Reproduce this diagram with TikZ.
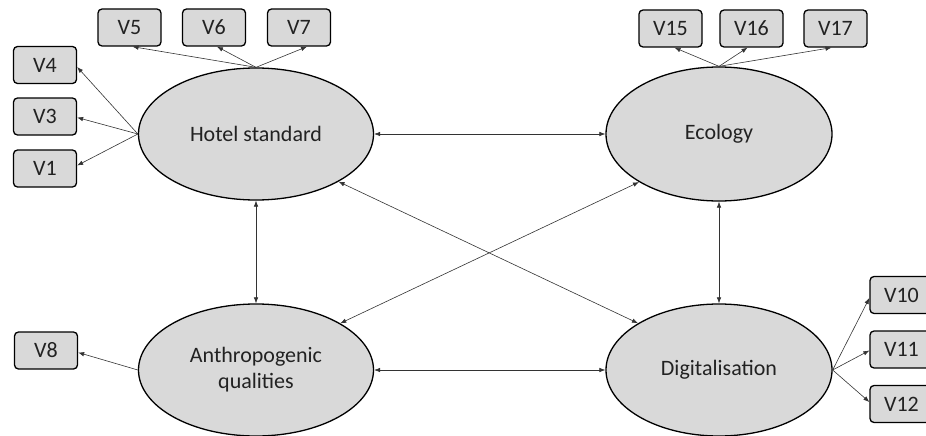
\documentclass[tikz,border=0pt]{standalone}
\usepackage{fontspec}
\setmainfont{Carlito}
\usetikzlibrary{arrows.meta,shapes.geometric}
\definecolor{fillgray}{HTML}{D9D9D9}
\definecolor{txt}{HTML}{222222}
\tikzset{
  latent/.style={ellipse, draw=black, line width=1.3pt, fill=fillgray, text=txt, inner sep=0pt, align=center,
    font=\fontsize{22}{26}\selectfont},
  obsbox/.style={rectangle, rounded corners=4pt, draw=black, line width=1.3pt, fill=fillgray, text=txt,
    minimum width=63pt, minimum height=37pt, inner sep=0pt, font=\fontsize{22}{26}\selectfont},
  load/.style={-{Latex[length=6pt,width=4.5pt]}, line width=0.6pt, draw=black!80},
  corr/.style={{Latex[length=6pt,width=4.5pt]}-{Latex[length=6pt,width=4.5pt]}, line width=0.6pt, draw=black!80},
}
\begin{document}
\begin{tikzpicture}[x=1pt,y=-1pt]
\useasboundingbox (0,0) rectangle (926,436);
% latent variables
\node[latent, minimum width=235pt, minimum height=132pt] (HS) at (256,134) {Hotel standard};
\node[latent, minimum width=226pt, minimum height=134pt] (EC) at (719,134) {Ecology};
\node[latent, minimum width=235pt, minimum height=132pt] (AQ) at (256,370) {Anthropogenic\\qualities};
\node[latent, minimum width=226pt, minimum height=132pt] (DG) at (719,370) {Digitalisation};
% indicators
\node[obsbox] (V5) at (129.5,27.5) {V5};
\node[obsbox] (V6) at (214,27.5) {V6};
\node[obsbox] (V7) at (299,27.5) {V7};
\node[obsbox] (V4) at (45,65) {V4};
\node[obsbox] (V3) at (45,116.5) {V3};
\node[obsbox] (V1) at (45,168.5) {V1};
\node[obsbox] (V15) at (670.5,28.5) {V15};
\node[obsbox] (V16) at (751.5,28.5) {V16};
\node[obsbox] (V17) at (835.5,28.5) {V17};
\node[obsbox] (V8) at (46,350.5) {V8};
\node[obsbox] (V10) at (901.5,295) {V10};
\node[obsbox] (V11) at (901.5,349.5) {V11};
\node[obsbox] (V12) at (901.5,404) {V12};
% loadings
\draw[load] (HS.north) -- ([xshift=3pt]V5.south);
\draw[load] (HS.north) -- ([xshift=3pt]V6.south);
\draw[load] (HS.north) -- ([xshift=8pt]V7.south);
\draw[load] (HS.west) -- ([yshift=-2pt]V4.east);
\draw[load] (HS.west) -- ([yshift=-1pt]V3.east);
\draw[load] (HS.west) -- ([yshift=3pt]V1.east);
\draw[load] (EC.north) -- ([xshift=4pt]V15.south);
\draw[load] (EC.north) -- ([xshift=-4pt]V16.south);
\draw[load] (EC.north) -- ([xshift=-4pt]V17.south);
\draw[load] (AQ.west) -- ([yshift=-2pt]V8.east);
\draw[load] (DG.east) -- ([yshift=-3pt]V10.west);
\draw[load] (DG.east) -- ([yshift=-1pt]V11.west);
\draw[load] (DG.east) -- ([yshift=2pt]V12.west);
% correlations
\draw[corr] (HS.east) -- (EC.west);
\draw[corr] (AQ.east) -- (DG.west);
\draw[corr] (HS.south) -- (AQ.north);
\draw[corr] (EC.south) -- (DG.north);
\draw[corr] (HS.-30) -- (DG.150);
\draw[corr] (EC.-149) -- (AQ.29);
\end{tikzpicture}
\end{document}
